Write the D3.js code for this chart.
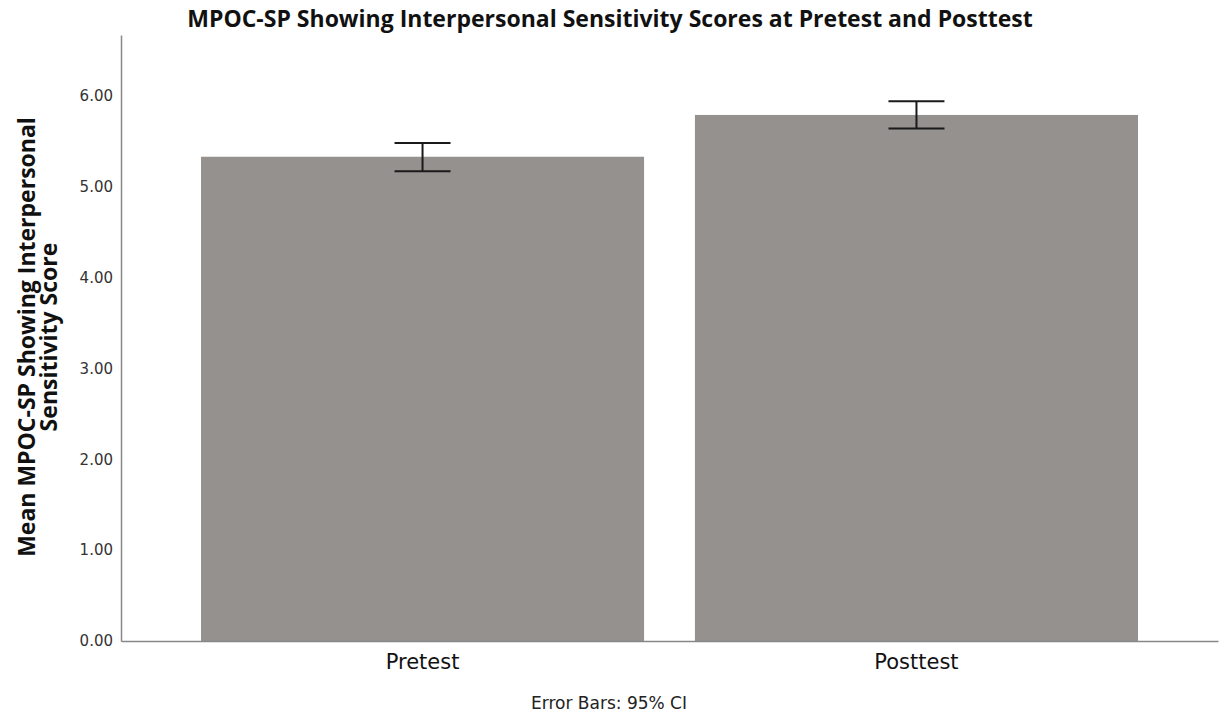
<!DOCTYPE html>
<html>
<head>
<meta charset="utf-8">
<script src="https://cdn.jsdelivr.net/npm/d3@7"></script>
<style>
  body { margin: 0; background: #fff; }
</style>
</head>
<body>
<script>
var width = 1225, height = 719;

// data
var groups = ["Pretest", "Posttest"];
var means = [5.33, 5.79];
var ciLow = [5.17, 5.64];
var ciHigh = [5.48, 5.94];
var yTicks = [0, 1, 2, 3, 4, 5, 6];

var svg = d3.select("body").append("svg")
    .attr("width", width)
    .attr("height", height);

var x = d3.scaleBand()
    .domain(groups)
    .range([121, 1218])
    .paddingInner(0.103)
    .paddingOuter(0.162);

var y = d3.scaleLinear()
    .domain([0, 6.67])
    .range([641, 35]);

// bars
svg.selectAll(".bar")
  .data(groups)
 .enter()
  .append("rect")
    .attr("class", "bar")
    .attr("x", function(d) { return x(d); })
    .attr("width", x.bandwidth())
    .attr("y", function(d, i) { return y(means[i]); })
    .attr("height", function(d, i) { return y(0) - y(means[i]); })
    .attr("fill", "#95918f");

// error bars
var capHalf = 28;
var eb = svg.selectAll(".eb")
  .data(groups)
 .enter()
  .append("g")
    .attr("class", "eb")
    .attr("stroke", "#1a1a1a")
    .attr("stroke-width", 2);

eb.append("line")
    .attr("x1", function(d) { return x(d) + x.bandwidth() / 2; })
    .attr("x2", function(d) { return x(d) + x.bandwidth() / 2; })
    .attr("y1", function(d, i) { return y(ciLow[i]); })
    .attr("y2", function(d, i) { return y(ciHigh[i]); });
eb.append("line")
    .attr("x1", function(d) { return x(d) + x.bandwidth() / 2 - capHalf; })
    .attr("x2", function(d) { return x(d) + x.bandwidth() / 2 + capHalf; })
    .attr("y1", function(d, i) { return y(ciHigh[i]); })
    .attr("y2", function(d, i) { return y(ciHigh[i]); });
eb.append("line")
    .attr("x1", function(d) { return x(d) + x.bandwidth() / 2 - capHalf; })
    .attr("x2", function(d) { return x(d) + x.bandwidth() / 2 + capHalf; })
    .attr("y1", function(d, i) { return y(ciLow[i]); })
    .attr("y2", function(d, i) { return y(ciLow[i]); });

// y axis
var yAxis = svg.append("g")
    .attr("transform", "translate(121,0)")
    .call(d3.axisLeft(y).tickValues(yTicks).tickSize(0).tickPadding(8)
      .tickFormat(d3.format(".2f")));
yAxis.select(".domain").attr("stroke", "#888").attr("stroke-width", 1.5);
yAxis.selectAll("text")
    .attr("font-family", "DejaVu Sans, sans-serif")
    .attr("font-size", 15)
    .attr("fill", "#333");

// x axis
var xAxis = svg.append("g")
    .attr("transform", "translate(0,641)")
    .call(d3.axisBottom(x).tickSize(0).tickPadding(13));
xAxis.select(".domain").attr("stroke", "#888").attr("stroke-width", 1.5);
xAxis.selectAll("text")
    .attr("font-family", "DejaVu Sans, sans-serif")
    .attr("font-size", 21)
    .attr("fill", "#111");

// title
svg.append("text")
    .attr("x", 610)
    .attr("y", 27)
    .attr("text-anchor", "middle")
    .attr("font-family", "Open Sans, sans-serif")
    .attr("font-weight", "bold")
    .attr("font-size", 23)
    .attr("fill", "#111")
    .text("MPOC-SP Showing Interpersonal Sensitivity Scores at Pretest and Posttest");

// y label
var yl = svg.append("text")
    .attr("transform", "translate(0,337) rotate(-90)")
    .attr("text-anchor", "middle")
    .attr("font-family", "Open Sans, sans-serif")
    .attr("font-weight", "bold")
    .attr("font-size", 23)
    .attr("fill", "#111");
yl.append("tspan").attr("x", 0).attr("y", 35).text("Mean MPOC-SP Showing Interpersonal");
yl.append("tspan").attr("x", 0).attr("y", 57).text("Sensitivity Score");

// footer
svg.append("text")
    .attr("x", 609)
    .attr("y", 709)
    .attr("text-anchor", "middle")
    .attr("font-family", "DejaVu Sans, sans-serif")
    .attr("font-size", 17)
    .attr("fill", "#222")
    .text("Error Bars: 95% CI");
</script>
</body>
</html>
